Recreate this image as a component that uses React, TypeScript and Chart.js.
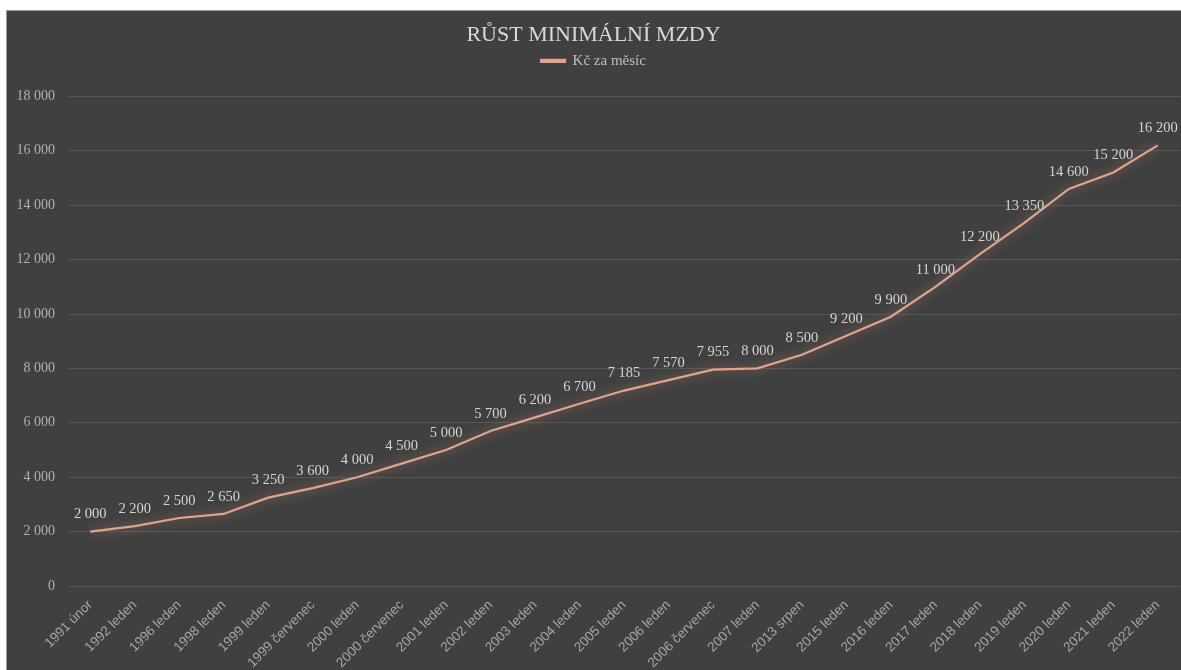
import React, { useEffect, useRef } from "react";
import { Chart, registerables } from "chart.js";

Chart.register(...registerables);

const categories = [
  "1991 únor", "1992 leden", "1996 leden", "1998 leden", "1999 leden",
  "1999 červenec", "2000 leden", "2000 červenec", "2001 leden", "2002 leden",
  "2003 leden", "2004 leden", "2005 leden", "2006 leden", "2006 červenec",
  "2007 leden", "2013 srpen", "2015 leden", "2016 leden", "2017 leden",
  "2018 leden", "2019 leden", "2020 leden", "2021 leden", "2022 leden",
];

const wageValues = [
  2000, 2200, 2500, 2650, 3250, 3600, 4000, 4500, 5000, 5700,
  6200, 6700, 7185, 7570, 7955, 8000, 8500, 9200, 9900, 11000,
  12200, 13350, 14600, 15200, 16200,
];

const seriesName = "Kč za měsíc";
const chartTitle = "RŮST MINIMÁLNÍ MZDY";
const yMin = 0;
const yMax = 18000;
const yStep = 2000;

const LINE = "#dfa48c";
const fmt = (v: number) =>
  String(v).replace(/\B(?=(\d{3})+(?!\d))/g, " ");

const glowPlugin = {
  id: "glow",
  beforeDatasetDraw(chart: any) {
    const ctx = chart.ctx;
    ctx.save();
    ctx.shadowColor = "rgba(223,164,140,0.6)";
    ctx.shadowBlur = 11;
  },
  afterDatasetDraw(chart: any) {
    chart.ctx.restore();
  },
};

const labelPlugin = {
  id: "valueLabels",
  afterDatasetsDraw(chart: any) {
    const ctx = chart.ctx;
    const meta = chart.getDatasetMeta(0);
    const data = chart.data.datasets[0].data as number[];
    ctx.save();
    ctx.font = "14.5px 'Liberation Serif', serif";
    ctx.fillStyle = "#d4d4d4";
    ctx.textAlign = "center";
    ctx.textBaseline = "middle";
    meta.data.forEach((pt: any, i: number) => {
      ctx.fillText(fmt(data[i]), pt.x, pt.y - 17);
    });
    ctx.restore();
  },
};

const legendMargin = {
  id: "legendMargin",
  beforeInit(chart: any) {
    const legend = chart.legend;
    if (!legend) return;
    const orig = legend.fit;
    legend.fit = function () {
      orig.call(this);
      this.height += 18;
    };
  },
};

export default function App() {
  const ref = useRef<HTMLCanvasElement>(null);
  useEffect(() => {
    if (!ref.current) return;
    const chart = new Chart(ref.current, {
      type: "line",
      data: {
        labels: categories,
        datasets: [
          {
            label: seriesName,
            data: wageValues,
            borderColor: LINE,
            backgroundColor: LINE,
            borderWidth: 2.2,
            pointRadius: 0,
            tension: 0,
          },
        ],
      },
      options: {
        animation: false,
        responsive: true,
        maintainAspectRatio: false,
        layout: { padding: { left: 0, right: 1, top: 0, bottom: 0 } },
        plugins: {
          title: {
            display: true,
            text: chartTitle,
            color: "#d9d9d9",
            font: { family: "'Liberation Serif', serif", size: 22, weight: "normal", lineHeight: 1.2 },
            padding: { top: 11, bottom: 0 },
          },
          legend: {
            display: true,
            labels: {
              color: "#bfbfbf",
              font: { family: "'Liberation Serif', serif", size: 15 },
              boxWidth: 24,
              boxHeight: 2,
              padding: 5,
            },
          },
          tooltip: { enabled: false },
        },
        scales: {
          x: {
            offset: true,
            grid: { display: false, drawTicks: false },
            border: { display: false },
            ticks: {
              color: "#a6a6a6",
              font: { family: "'Liberation Sans', sans-serif", size: 13.5 },
              maxRotation: 45,
              minRotation: 45,
              autoSkip: false,
              padding: 11,
            },
            afterFit(scale: any) {
              scale.height = 84;
            },
          },
          y: {
            min: yMin,
            max: yMax,
            grid: { color: "#565656", lineWidth: 1, drawTicks: false },
            border: { display: false },
            ticks: {
              stepSize: yStep,
              color: "#b0b0b0",
              font: { family: "'Liberation Serif', serif", size: 14 },
              padding: 13,
              callback: (v: any) => fmt(Number(v)),
            },
            afterFit(scale: any) {
              scale.width = 61;
            },
          },
        },
      },
      plugins: [glowPlugin, labelPlugin, legendMargin],
    });
    return () => chart.destroy();
  }, []);

  return (
    <div
      style={{
        position: "absolute",
        left: 6,
        top: 10,
        width: 1174,
        height: 659,
        background: "#404040",
        borderLeft: "1px solid #9a9a9a",
        borderTop: "1px solid #9a9a9a",
      }}
    >
      <canvas ref={ref} />
    </div>
  );
}
